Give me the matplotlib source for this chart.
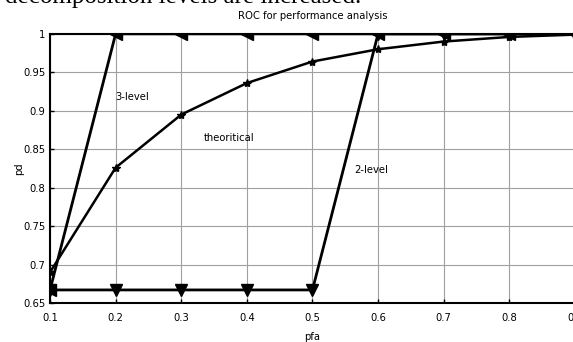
import numpy as np
import matplotlib
matplotlib.use("Agg")
import matplotlib.pyplot as plt
from matplotlib import font_manager

pfa = [0.1, 0.2, 0.3, 0.4, 0.5, 0.6, 0.7, 0.8, 0.9]
pd_theory = [0.690, 0.826, 0.895, 0.936, 0.964, 0.980, 0.990, 0.996, 0.999]
pd_3level = [0.667, 1, 1, 1, 1, 1, 1, 1, 1]
pd_2level = [0.667, 0.667, 0.667, 0.667, 0.667, 1, 1, 1, 1]

xticks = [0.1, 0.2, 0.3, 0.4, 0.5, 0.6, 0.7, 0.8, 0.9]
yticks = [0.65, 0.7, 0.75, 0.8, 0.85, 0.9, 0.95, 1]

# look for a narrow sans font, otherwise plain Liberation Sans
fonts = font_manager.fontManager.ttflist
narrow = [f for f in fonts if ('Narrow' in f.name or 'Condensed' in f.name
                               or f.stretch in ('condensed', 'semi-condensed'))
          and 'Serif' not in f.name and 'Mono' not in f.name]
if narrow:
    plt.rcParams['font.family'] = [narrow[0].name, 'DejaVu Sans']
    plt.rcParams['font.stretch'] = narrow[0].stretch
else:
    plt.rcParams['font.family'] = ['Liberation Sans', 'DejaVu Sans']

fs = 8
fig = plt.figure(figsize=(5.73, 3.42), dpi=100)
ax = fig.add_axes([0.0873, 0.114, 0.916, 0.787])

ax.plot(pfa, pd_3level, color='black', lw=2, marker='<', ms=8)
ax.plot(pfa, pd_2level, color='black', lw=2, marker='v', ms=8)
ax.plot(pfa, pd_theory, color='black', lw=1.8, marker='*', ms=6)

ax.set_xlim(0.1, 0.9)
ax.set_ylim(0.65, 1.0)
ax.set_xticks(xticks)
ax.set_xticklabels([f"{v:g}" for v in xticks], fontsize=fs)
ax.set_yticks(yticks)
ax.set_yticklabels([f"{v:g}" for v in yticks], fontsize=fs)
ax.tick_params(direction='in', length=3, width=1)
ax.tick_params(axis='x', pad=7)
ax.grid(True, color='#a0a0a0', lw=0.8)
for s in ax.spines.values():
    s.set_linewidth(1.5)

ax.set_title("ROC for performance analysis", fontsize=fs, pad=11)
ax.set_xlabel("pfa", fontsize=fs)
ax.xaxis.set_label_coords(0.5, -0.108)
ax.set_ylabel("pd", fontsize=fs)
ax.yaxis.set_label_coords(-0.0495, 0.5)

ax.text(0.199, 0.918, "3-level", fontsize=fs, va='center')
ax.text(0.334, 0.865, "theoritical", fontsize=fs, va='center')
ax.text(0.563, 0.823, "2-level", fontsize=fs, va='center')

# page text above the figure, cut off at the top
fig.text(0.008, 1 - 3.3 / 342, "decomposition levels are increased.", family='Liberation Serif',
         fontsize=18, va='baseline')

fig.savefig("out.png", dpi=100)
